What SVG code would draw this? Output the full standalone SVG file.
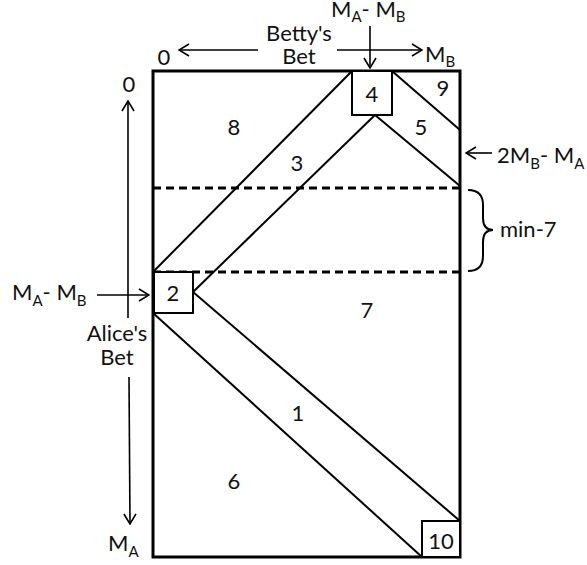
<svg xmlns="http://www.w3.org/2000/svg" width="587" height="565" viewBox="0 0 587 565">
<defs>
<marker id="ah" viewBox="0 0 12 14" refX="11" refY="7" markerWidth="12" markerHeight="14" markerUnits="userSpaceOnUse" orient="auto">
<path d="M1,1 L11,7 L1,13" fill="none" stroke="#000" stroke-width="1.6"/>
</marker>
</defs>
<style>
text{font-family:Lato,"Open Sans","DejaVu Sans",sans-serif;font-size:22px;fill:#111}
.sub{font-size:15px}
.c{text-anchor:middle}
.ln{stroke:#000;stroke-width:2;fill:none}
.ar{stroke:#000;stroke-width:1.6;fill:none;marker-end:url(#ah)}
.dash{stroke:#000;stroke-width:3;stroke-dasharray:8 5;fill:none}
</style>
<rect width="587" height="565" fill="#fff"/>
<g id="connectors">
<line class="ln" x1="352" y1="71" x2="153" y2="272"/>
<line class="ln" x1="375" y1="115" x2="193" y2="292"/>
<line class="ln" x1="375" y1="115" x2="460" y2="186"/>
<line class="ln" x1="392" y1="71" x2="460" y2="130"/>
<line class="ln" x1="153" y1="313" x2="422" y2="557"/>
<line class="ln" x1="193" y1="292" x2="460" y2="521"/>
<line class="dash" x1="153" y1="188" x2="460" y2="188"/>
<line class="dash" x1="153" y1="272" x2="460" y2="272"/>
<line class="ar" x1="258" y1="50" x2="179" y2="50"/>
<line class="ar" x1="337" y1="50" x2="422" y2="50"/>
<line class="ar" x1="370" y1="26" x2="370" y2="68"/>
<line class="ar" x1="128" y1="318" x2="128" y2="101"/>
<line class="ar" x1="129" y1="377" x2="130" y2="524"/>
<line class="ar" x1="97" y1="295" x2="149" y2="295"/>
<line class="ar" x1="492" y1="153" x2="466" y2="153"/>
<path class="ln" stroke-width="1.5" d="M468,190 Q483,190 483,205 L483,218 Q483,230 493,230 Q483,230 483,242 L483,256 Q483,271 468,271"/>
</g>
<g id="frame"><rect x="153" y="71" width="307" height="486" fill="none" stroke="#000" stroke-width="3"/></g>
<g id="box4"><rect x="352" y="71" width="40" height="44" fill="#fff" stroke="#000" stroke-width="2"/><text class="c" x="372" y="102">4</text></g>
<g id="box2"><rect x="154" y="272" width="39" height="41" fill="#fff" stroke="#000" stroke-width="2"/><text class="c" x="173" y="301">2</text></g>
<g id="box10"><rect x="422" y="521" width="38" height="36" fill="#fff" stroke="#000" stroke-width="2"/><text class="c" x="441" y="549">10</text></g>
<g id="regions">
<text class="c" x="234" y="135">8</text>
<text class="c" x="297" y="171">3</text>
<text class="c" x="421" y="135">5</text>
<text class="c" x="443" y="96">9</text>
<text class="c" x="367" y="318">7</text>
<text class="c" x="298" y="421">1</text>
<text class="c" x="234" y="489">6</text>
</g>
<g id="labels">
<text class="c" x="164" y="65">0</text>
<text class="c" x="299" y="41">Betty's</text>
<text class="c" x="299" y="64">Bet</text>
<text x="425" y="62">M<tspan class="sub" dy="5">B</tspan></text>
<text x="331" y="17">M<tspan class="sub" dy="5">A</tspan><tspan dy="-5">- M</tspan><tspan class="sub" dy="5">B</tspan></text>
<text class="c" x="129" y="92">0</text>
<text class="c" x="117" y="341">Alice's</text>
<text class="c" x="117" y="365">Bet</text>
<text x="12" y="300">M<tspan class="sub" dy="6">A</tspan><tspan dy="-6">- M</tspan><tspan class="sub" dy="6">B</tspan></text>
<text x="108" y="551">M<tspan class="sub" dy="6">A</tspan></text>
<text x="497" y="163">2M<tspan class="sub" dy="6">B</tspan><tspan dy="-6">- M</tspan><tspan class="sub" dy="6">A</tspan></text>
<text x="500" y="237">min-7</text>
</g>
</svg>
